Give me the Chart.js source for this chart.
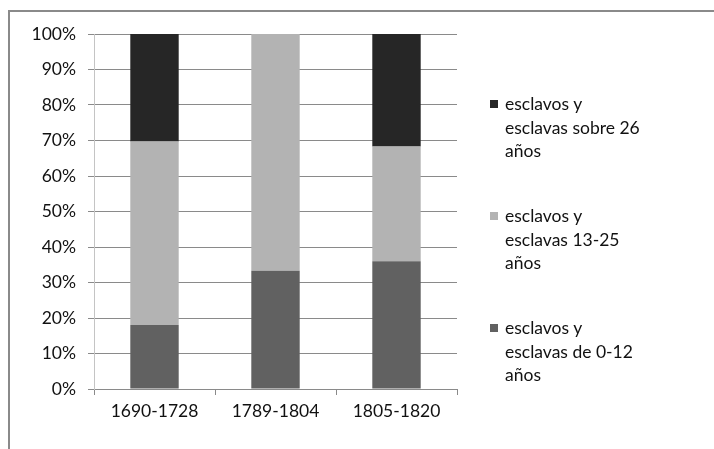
<!DOCTYPE html>
<html>
<head>
<meta charset="utf-8">
<script src="https://cdn.jsdelivr.net/npm/chart.js@4"></script>
<style>
    html, body { margin: 0; padding: 0; background: #fff; }
    #marco { position: absolute; left: 8px; top: 10px; width: 706px; height: 439px;
             border-top: 2px solid #8a8a8a; border-left: 2px solid #8a8a8a; }
    #lienzo { position: absolute; left: 0; top: 0; }
    #leyenda { position: absolute; left: 0; top: 0; font-family: Lato, sans-serif; font-size: 17.5px; color: #111; }
    .item { position: absolute; left: 505px; line-height: 23.5px; white-space: nowrap; }
    .cuadro { position: absolute; left: -15px; top: 8px; width: 8px; height: 8px; }
</style>
</head>
<body>
<div id="marco"></div>
<canvas id="lienzo" width="714" height="449"></canvas>
<div id="leyenda"></div>
<script>
// datos del grafico (porcentajes por periodo)
const periodos = ["1690-1728", "1789-1804", "1805-1820"];
const edad0a12 = [18.0, 33.3, 36.0];
const edad13a25 = [51.7, 66.7, 32.3];
const edadSobre26 = [30.3, 0, 31.7];
const etiquetas = [
    ["esclavos y", "esclavas de 0-12", "años"],
    ["esclavos y", "esclavas 13-25", "años"],
    ["esclavos y", "esclavas sobre  26", "años"]
];
const marcasY = ["0%", "10%", "20%", "30%", "40%", "50%", "60%", "70%", "80%", "90%", "100%"];

const colores = ["#616161", "#b3b3b3", "#262626"];
const series = [edad0a12, edad13a25, edadSobre26];

const fuente = { family: "Lato, sans-serif", size: 17.5 };

const ctx = document.getElementById('lienzo');

const grafico = new Chart(ctx, {
    type: 'bar',
    data: {
        labels: periodos,
        datasets: series.map(function (valores, i) {
            return {
                label: etiquetas[i].join(" "),
                data: valores,
                backgroundColor: colores[i],
                borderWidth: 0,
                categoryPercentage: 1,
                barPercentage: 0.4
            };
        })
    },
    options: {
        responsive: false,
        animation: false,
        layout: { padding: { left: 0, top: 34, right: 257, bottom: 0 } },
        plugins: {
            legend: { display: false },
            tooltip: { enabled: false }
        },
        scales: {
            x: {
                stacked: true,
                afterFit: function (escala) { escala.height = 60; },
                grid: { drawOnChartArea: false, drawTicks: true, tickLength: 6, color: "#8a8a8a", offset: true },
                border: { color: "#8a8a8a" },
                ticks: { font: fuente, color: "#111", padding: 6 }
            },
            y: {
                stacked: true,
                min: 0,
                max: 100,
                afterFit: function (escala) { escala.width = 94; },
                grid: { color: "#8a8a8a", tickLength: 6 },
                border: { color: "#c4c4c4" },
                ticks: {
                    stepSize: 10,
                    font: fuente,
                    color: "#111",
                    padding: 12,
                    callback: function (valor) { return marcasY[Math.round(valor / 10)]; }
                }
            }
        }
    }
});

// leyenda con texto en varias lineas, la serie de arriba primero
let leyenda = document.getElementById("leyenda");
grafico.data.datasets.slice().reverse().forEach(function (ds, i) {
    let idx = grafico.data.datasets.length - 1 - i;
    let item = document.createElement("div");
    item.className = "item";
    item.style.top = (92 + i * 112) + "px";
    let cuadro = document.createElement("span");
    cuadro.className = "cuadro";
    cuadro.style.background = ds.backgroundColor;
    item.appendChild(cuadro);
    etiquetas[idx].forEach(function (linea, j) {
        if (j > 0) item.appendChild(document.createElement("br"));
        item.appendChild(document.createTextNode(linea));
    });
    leyenda.appendChild(item);
});
</script>
</body>
</html>
